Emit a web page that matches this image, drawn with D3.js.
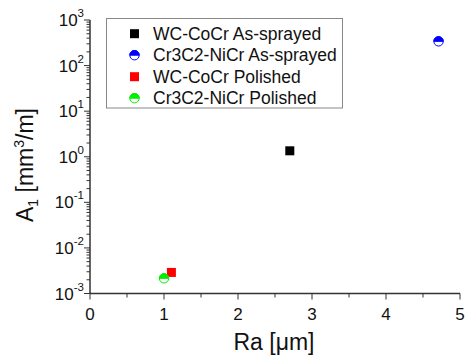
<!DOCTYPE html>
<html><head><meta charset="utf-8">
<script src="https://cdn.jsdelivr.net/npm/d3@7"></script>
<style>body{margin:0;background:#fff}svg{display:block}text{font-family:"Liberation Sans",Arial,sans-serif}</style>
</head><body>
<svg id="c" width="465" height="355"></svg>
<script>
const seriesNames = ["WC-CoCr As-sprayed","Cr3C2-NiCr As-sprayed","WC-CoCr Polished","Cr3C2-NiCr Polished"];
const seriesColors = ["#000000","#0000ff","#ff0000","#00ee00"];
const seriesShapes = ["square","halfcircle","square","halfcircle"];
const raValues = [2.7, 4.71, 1.1, 1.0];
const a1Values = [1.35, 340, 0.0029, 0.00215];
const xTicks = [0,1,2,3,4,5];
const yTickExps = [-3,-2,-1,0,1,2,3];

const svg = d3.select("#c");
const L=90, R=460, T=20, B=293.5;
const x = d3.scaleLinear().domain([0,5]).range([L,R]);
const y = d3.scaleLog().domain([1e-3,1e3]).range([B,T]);
const axisColor="#333";

// Y axis
const ga = svg.append("g");
ga.append("line").attr("x1",L).attr("x2",L).attr("y1",T).attr("y2",B).attr("stroke",axisColor).attr("stroke-width",1.5);
y.ticks().forEach(v=>{
  const e=Math.log10(v), major=Math.abs(e-Math.round(e))<1e-9;
  ga.append("line").attr("x1",L).attr("x2",L-(major?6:3.5)).attr("y1",y(v)).attr("y2",y(v)).attr("stroke",axisColor).attr("stroke-width",1);
});
yTickExps.forEach(e=>{
  const t=ga.append("text").attr("y",y(Math.pow(10,e))+6).attr("font-size",17).attr("fill","#111");
  t.append("tspan").text("10");
  t.append("tspan").attr("dy",-9).attr("font-size",11.5).text(e);
  const w=t.node().getComputedTextLength();
  t.attr("x",L-6-w);
});
// X axis
ga.append("line").attr("x1",L).attr("x2",R).attr("y1",B).attr("y2",B).attr("stroke",axisColor).attr("stroke-width",1.5);
d3.range(0,5.01,0.5).forEach(v=>{
  const major=Math.abs(v-Math.round(v))<1e-9;
  ga.append("line").attr("x1",x(v)).attr("x2",x(v)).attr("y1",B).attr("y2",B+(major?6:4)).attr("stroke",axisColor).attr("stroke-width",1);
});
xTicks.forEach(v=>{
  ga.append("text").attr("x",x(v)).attr("y",B+26).attr("text-anchor","middle").attr("font-size",17).attr("fill","#111").text(v);
});
// Axis titles
const xt=svg.append("text").attr("x",274).attr("y",350).attr("text-anchor","middle").attr("font-size",23).attr("fill","#111");
xt.append("tspan").text("Ra [");
xt.append("tspan").text("μ");
xt.append("tspan").text("m]");
const yt=svg.append("text").attr("transform","translate(33,"+165+") rotate(-90)").attr("text-anchor","middle").attr("font-size",23).attr("fill","#111");
yt.append("tspan").text("A");
yt.append("tspan").attr("font-size",14).attr("dy",5).text("1");
yt.append("tspan").attr("dy",-5).text(" [mm");
yt.append("tspan").attr("font-size",14).attr("dy",-9).text("3");
yt.append("tspan").attr("dy",9).text("/m]");

function drawMarker(g,shape,color,cx,cy){
  if(shape==="square"){
    g.append("rect").attr("x",cx-4.5).attr("y",cy-4.5).attr("width",9).attr("height",9).attr("fill",color);
  } else {
    const r=4.7;
    g.append("circle").attr("cx",cx).attr("cy",cy).attr("r",r).attr("fill","#fff").attr("stroke",color).attr("stroke-width",1);
    g.append("path").attr("d",`M${cx-r},${cy} A${r},${r} 0 0 1 ${cx+r},${cy} Z`).attr("fill",color).attr("stroke",color).attr("stroke-width",1);
  }
}
// points
const gp=svg.append("g");
raValues.forEach((v,i)=>drawMarker(gp,seriesShapes[i],seriesColors[i],x(v),y(a1Values[i])));

// legend
const lg=svg.append("g");
lg.append("rect").attr("x",106.5).attr("y",18.5).attr("width",236).attr("height",89.5).attr("fill","#fff").attr("stroke","#888").attr("stroke-width",1);
seriesNames.forEach((n,i)=>{
  const cy=33.7+i*21.5;
  drawMarker(lg,seriesShapes[i],seriesColors[i],134.5,cy);
  lg.append("text").attr("x",153).attr("y",cy+6).attr("font-size",17.5).attr("fill","#111").text(n);
});
</script>
</body></html>
